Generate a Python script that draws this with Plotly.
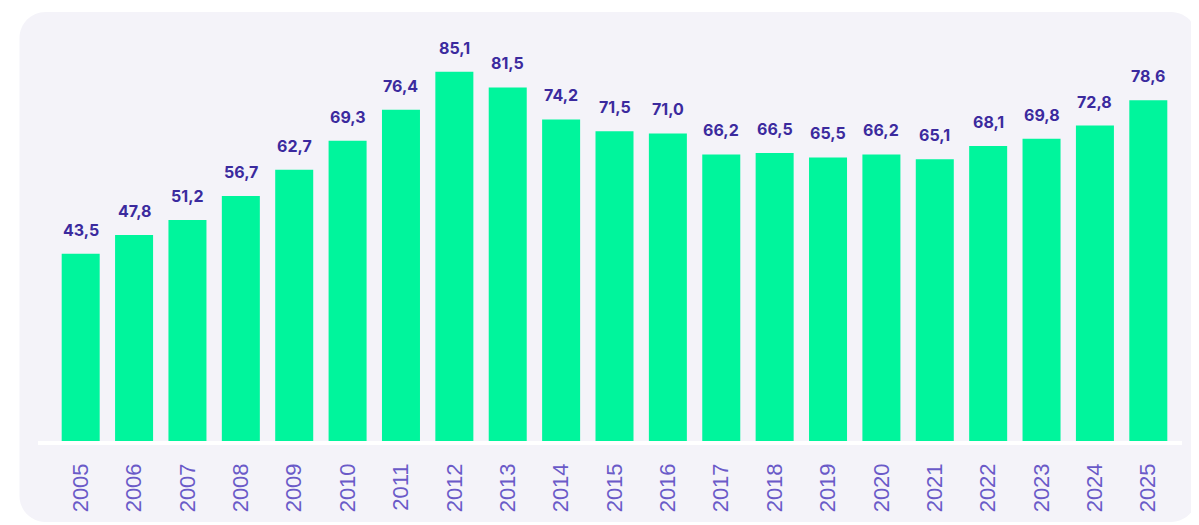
import plotly.graph_objects as go

years = [str(y) for y in range(2005, 2026)]
values = [43.5, 47.8, 51.2, 56.7, 62.7, 69.3, 76.4, 85.1, 81.5, 74.2, 71.5, 71.0,
          66.2, 66.5, 65.5, 66.2, 65.1, 68.1, 69.8, 72.8, 78.6]
labels = [f"{v:.1f}".replace(".", ",") for v in values]

# page body has an 8px margin, so the figure is drawn 8px in and everything is offset
OFF = 8
W, H = 1199 - OFF, 525 - OFF
ML, MR, MT, MB = 54 - OFF, 1199 - 1175, 30 - OFF, 525 - 444
PW, PH = W - ML - MR, H - MT - MB
YMAX = PH / 4.375

BAR = "#00F59C"
LBL = "#3B2A9E"
TICK = "#6A5AC8"
PANEL = "#F4F3F9"


def px(x):
    return (x - OFF - ML) / PW


def py(y):
    return (H - MB - (y - OFF)) / PH


def rounded_rect(x0, y0, x1, y1, r):
    k = 0.5523 * r
    f = lambda a, b: f"{px(a):.5f},{py(b):.5f}"
    pts = [
        f"M {f(x0 + r, y0)}",
        f"L {f(x1 - r, y0)}",
        f"C {f(x1 - r + k, y0)} {f(x1, y0 + r - k)} {f(x1, y0 + r)}",
        f"L {f(x1, y1 - r)}",
        f"C {f(x1, y1 - r + k)} {f(x1 - r + k, y1)} {f(x1 - r, y1)}",
        f"L {f(x0 + r, y1)}",
        f"C {f(x0 + r - k, y1)} {f(x0, y1 - r + k)} {f(x0, y1 - r)}",
        f"L {f(x0, y0 + r)}",
        f"C {f(x0, y0 + r - k)} {f(x0 + r - k, y0)} {f(x0 + r, y0)} Z",
    ]
    return " ".join(pts)


idx = list(range(len(years)))

fig = go.Figure()
fig.add_trace(go.Bar(x=idx, y=values, marker=dict(color=BAR, line=dict(width=0)),
                     hoverinfo="skip"))

for i, v, t in zip(idx, values, labels):
    fig.add_annotation(x=i, y=v, xref="x", yref="y", text=f"<b>{t}</b>", showarrow=False,
                       yanchor="bottom", yshift=12,
                       font=dict(family="Inter, Liberation Sans, sans-serif", size=16, color=LBL))

shapes = [
    dict(type="path", xref="paper", yref="paper", path=rounded_rect(19.5, 12, 1197, 522, 26),
         fillcolor=PANEL, line=dict(width=0), layer="below"),
    dict(type="rect", xref="paper", yref="paper", x0=px(38), x1=px(1182), y0=py(445), y1=py(441),
         fillcolor="#FFFFFF", line=dict(width=0), layer="above"),
]

fig.update_layout(
    width=W, height=H,
    margin=dict(l=ML, r=MR, t=MT, b=MB),
    paper_bgcolor="#FFFFFF",
    plot_bgcolor="rgba(0,0,0,0)",
    bargap=0.288,
    showlegend=False,
    shapes=shapes,
    xaxis=dict(range=[-0.5, len(years) - 0.5], tickmode="array", tickvals=idx, ticktext=years,
               tickangle=-90, showgrid=False, zeroline=False, showline=False,
               ticks="", ticklabelstandoff=14, fixedrange=True,
               tickfont=dict(family="Liberation Sans Narrow, Liberation Sans, Arial, sans-serif",
                             size=22, color=TICK)),
    yaxis=dict(range=[0, YMAX], visible=False, showgrid=False, zeroline=False, fixedrange=True),
)

fig.write_html("out.html")
